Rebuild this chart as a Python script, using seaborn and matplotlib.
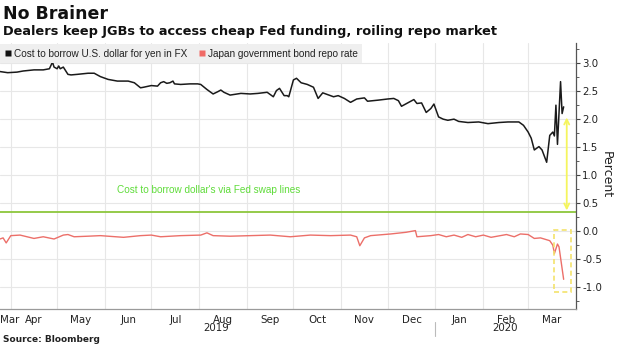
import matplotlib
matplotlib.use("Agg")
import matplotlib.pyplot as plt
import matplotlib.dates as mdates
import matplotlib.transforms as mtransforms
from matplotlib.patches import Rectangle
from matplotlib.lines import Line2D
from matplotlib.ticker import FixedLocator, FixedFormatter, MultipleLocator, NullFormatter
import numpy as np
import pandas as pd
import seaborn as sns

# Cost to borrow U.S. dollar for yen in FX (percent)
fx_dates = [
    "2019-03-25", "2019-03-30", "2019-04-05", "2019-04-09", "2019-04-16", "2019-04-22",
    "2019-04-26", "2019-04-28", "2019-04-29", "2019-05-01", "2019-05-02", "2019-05-03",
    "2019-05-05", "2019-05-08", "2019-05-10", "2019-05-14", "2019-05-21", "2019-05-25",
    "2019-05-29", "2019-06-03", "2019-06-09", "2019-06-16", "2019-06-20", "2019-06-24",
    "2019-06-26", "2019-07-01", "2019-07-05", "2019-07-07", "2019-07-09", "2019-07-11",
    "2019-07-13", "2019-07-15", "2019-07-16", "2019-07-20", "2019-07-26", "2019-07-31",
    "2019-08-02", "2019-08-06", "2019-08-10", "2019-08-13", "2019-08-15", "2019-08-17",
    "2019-08-21", "2019-08-28", "2019-09-03", "2019-09-08", "2019-09-14", "2019-09-18",
    "2019-09-20", "2019-09-22", "2019-09-25", "2019-09-27", "2019-09-28", "2019-10-01",
    "2019-10-03", "2019-10-06", "2019-10-10", "2019-10-14", "2019-10-17", "2019-10-20",
    "2019-10-23", "2019-10-27", "2019-10-30", "2019-11-03", "2019-11-07", "2019-11-11",
    "2019-11-16", "2019-11-18", "2019-11-25", "2019-12-01", "2019-12-05", "2019-12-08",
    "2019-12-10", "2019-12-14", "2019-12-18", "2019-12-20", "2019-12-23", "2019-12-26",
    "2019-12-29", "2019-12-31", "2020-01-03", "2020-01-06", "2020-01-09", "2020-01-13",
    "2020-01-16", "2020-01-22", "2020-01-29", "2020-02-04", "2020-02-11", "2020-02-17",
    "2020-02-24", "2020-02-27", "2020-03-01", "2020-03-03", "2020-03-05", "2020-03-08",
    "2020-03-10", "2020-03-13", "2020-03-15", "2020-03-17", "2020-03-18", "2020-03-19",
    "2020-03-20", "2020-03-22", "2020-03-23", "2020-03-24",
]
fx_cost = [
    2.85, 2.83, 2.84, 2.86, 2.88, 2.88,
    2.90, 3.02, 2.93, 2.90, 2.95, 2.90,
    2.93, 2.80, 2.79, 2.80, 2.82, 2.82,
    2.76, 2.71, 2.68, 2.68, 2.65, 2.56,
    2.57, 2.60, 2.59, 2.65, 2.67, 2.64,
    2.65, 2.68, 2.63, 2.62, 2.63, 2.63,
    2.62, 2.53, 2.45, 2.49, 2.52, 2.48,
    2.43, 2.46, 2.45, 2.46, 2.48, 2.40,
    2.51, 2.55, 2.42, 2.42, 2.40, 2.70,
    2.73, 2.65, 2.62, 2.57, 2.37, 2.47,
    2.44, 2.40, 2.42, 2.37, 2.30, 2.36,
    2.38, 2.32, 2.34, 2.36, 2.37, 2.33,
    2.23, 2.29, 2.35, 2.28, 2.29, 2.12,
    2.19, 2.27, 2.04, 2.00, 1.98, 2.00,
    1.96, 1.94, 1.95, 1.92, 1.94, 1.95,
    1.95, 1.89, 1.77, 1.66, 1.45, 1.51,
    1.45, 1.23, 1.71, 1.77, 1.70, 2.25,
    1.55, 2.67, 2.10, 2.22,
]

# Japan government bond repo rate (percent)
repo_dates = [
    "2019-03-25", "2019-03-27", "2019-03-29", "2019-04-01", "2019-04-07", "2019-04-16",
    "2019-04-22", "2019-04-29", "2019-05-05", "2019-05-08", "2019-05-12", "2019-05-21",
    "2019-05-29", "2019-06-13", "2019-06-24", "2019-07-01", "2019-07-07", "2019-07-20",
    "2019-08-02", "2019-08-06", "2019-08-10", "2019-08-21", "2019-09-03", "2019-09-16",
    "2019-09-29", "2019-10-12", "2019-10-25", "2019-11-07", "2019-11-11", "2019-11-13",
    "2019-11-16", "2019-11-20", "2019-12-03", "2019-12-13", "2019-12-19", "2019-12-20",
    "2019-12-29", "2020-01-03", "2020-01-08", "2020-01-13", "2020-01-18", "2020-01-22",
    "2020-01-27", "2020-02-01", "2020-02-06", "2020-02-12", "2020-02-16", "2020-02-21",
    "2020-02-25", "2020-03-01", "2020-03-05", "2020-03-09", "2020-03-15", "2020-03-17",
    "2020-03-18", "2020-03-20", "2020-03-21", "2020-03-24",
]
repo_rate = [
    -0.14, -0.12, -0.21, -0.08, -0.07, -0.13,
    -0.10, -0.14, -0.07, -0.06, -0.10, -0.09,
    -0.08, -0.11, -0.08, -0.07, -0.10, -0.08,
    -0.07, -0.03, -0.08, -0.09, -0.08, -0.07,
    -0.10, -0.07, -0.08, -0.07, -0.10, -0.26,
    -0.12, -0.08, -0.05, -0.02, 0.01, -0.10,
    -0.08, -0.06, -0.10, -0.07, -0.11, -0.06,
    -0.10, -0.07, -0.11, -0.08, -0.06, -0.10,
    -0.05, -0.06, -0.13, -0.12, -0.17, -0.25,
    -0.40, -0.23, -0.28, -0.86,
]

legend_labels = ["Cost to borrow U.S. dollar for yen in FX", "Japan government bond repo rate"]
swap_line_rate = 0.34
swap_line_label = "Cost to borrow dollar's via Fed swap lines"
month_labels = ["Mar", "Apr", "May", "Jun", "Jul", "Aug", "Sep", "Oct", "Nov", "Dec", "Jan", "Feb", "Mar"]
year_labels = ["2019", "2020"]
y_ticks = [-1.0, -0.5, 0.0, 0.5, 1.0, 1.5, 2.0, 2.5, 3.0]

fx_df = pd.DataFrame({"date": pd.to_datetime(fx_dates), "value": fx_cost})
repo_df = pd.DataFrame({"date": pd.to_datetime(repo_dates), "value": repo_rate})

sns.set_style("white")
plt.rcParams["font.family"] = ["DejaVu Sans"]
plt.rcParams["axes.unicode_minus"] = False
NARROW = ["Liberation Sans", "DejaVu Sans"]

fig = plt.figure(figsize=(6.2, 3.48), dpi=100)
ax = fig.add_axes([0.0, 39 / 348, 576 / 620, 266 / 348])

x_start = pd.Timestamp("2019-03-25")
x_end = pd.Timestamp("2020-04-01")

# Fed swap-line reference level
ax.axhline(swap_line_rate, color="#8cc63c", lw=1.3, zorder=2)
ax.text(pd.Timestamp("2019-08-07"), 0.73, swap_line_label, color="#5fdc3a",
        ha="center", va="center", fontsize=7.2, family=NARROW)

sns.lineplot(data=repo_df, x="date", y="value", ax=ax, color="#ec6f69", lw=1.0, zorder=3)
sns.lineplot(data=fx_df, x="date", y="value", ax=ax, color="#1a1a1a", lw=1.1, zorder=4)

# Spread between FX-implied cost and the swap line
arrow_x = mdates.date2num(pd.Timestamp("2020-03-26"))
ax.annotate("", xy=(arrow_x, 2.03), xytext=(arrow_x, 0.37),
            arrowprops=dict(arrowstyle="<->", color="#f5f55e", lw=1.3, mutation_scale=9,
                            shrinkA=0, shrinkB=0), zorder=5)

# Highlight the March repo plunge
box_left = mdates.date2num(pd.Timestamp("2020-03-18"))
box_right = mdates.date2num(pd.Timestamp("2020-03-29"))
ax.add_patch(Rectangle((box_left, -1.09), box_right - box_left, 1.11, fill=False,
                       ls=(0, (3, 2)), ec="#f3e36c", lw=1.2, zorder=5))

ax.set_xlim(x_start, x_end)
ax.set_ylim(-1.39, 3.36)
ax.set_xlabel("")
ax.set_ylabel("")

# y axis on the right
ax.yaxis.tick_right()
ax.set_yticks(y_ticks)
ax.set_yticklabels([f"{v:.1f}" for v in y_ticks])
ax.yaxis.set_minor_locator(MultipleLocator(0.25))
ax.tick_params(axis="y", which="major", direction="out", length=3, width=0.8,
               color="#444444", labelsize=7.4, pad=1.5, labelcolor="#222222")
ax.tick_params(axis="y", which="minor", direction="out", length=2, width=0.6, color="#444444")

# x axis: ticks at month starts, labels centred in each month
month_starts = pd.date_range("2019-04-01", "2020-03-01", freq="MS")
ax.xaxis.set_major_locator(FixedLocator(mdates.date2num(month_starts)))
ax.xaxis.set_major_formatter(NullFormatter())
centres = [pd.Timestamp("2019-03-31")]
for a, b in zip(month_starts[:-1], month_starts[1:]):
    centres.append(a + (b - a) / 2)
centres.append(month_starts[-1] + (x_end - month_starts[-1]) / 2)
ax.xaxis.set_minor_locator(FixedLocator(mdates.date2num(centres)))
ax.xaxis.set_minor_formatter(FixedFormatter(month_labels))
ax.tick_params(axis="x", which="major", direction="inout", length=3, width=0.8, color="#888888")
ax.tick_params(axis="x", which="minor", length=0, labelsize=7.4, pad=4, labelcolor="#222222")

ax.grid(True, which="major", color="#e7e7e7", lw=0.8)
ax.set_axisbelow(True)

for side in ["left", "top"]:
    ax.spines[side].set_visible(False)
ax.spines["right"].set_color("#555555")
ax.spines["right"].set_linewidth(0.9)
ax.spines["bottom"].set_color("#9a9a9a")
ax.spines["bottom"].set_linewidth(0.9)

# Year labels and the year separator below the month labels
xtrans = mtransforms.blended_transform_factory(ax.transData, ax.transAxes)
ax.text(pd.Timestamp("2019-08-12"), -0.072, year_labels[0], transform=xtrans, ha="center",
        va="center", fontsize=7.4, color="#222222", clip_on=False)
ax.text(pd.Timestamp("2020-02-15"), -0.072, year_labels[1], transform=xtrans, ha="center",
        va="center", fontsize=7.4, color="#222222", clip_on=False)
jan1 = mdates.date2num(pd.Timestamp("2020-01-01"))
ax.add_line(Line2D([jan1, jan1], [-0.05, -0.1], transform=xtrans, color="#bbbbbb",
                   lw=0.8, clip_on=False))

# Legend
handles = [
    Line2D([], [], marker="s", ls="none", markerfacecolor="#111111", markeredgecolor="none",
           markersize=5, label=legend_labels[0]),
    Line2D([], [], marker="s", ls="none", markerfacecolor="#f06a66", markeredgecolor="none",
           markersize=5, label=legend_labels[1]),
]
leg = ax.legend(handles=handles, loc="upper left", bbox_to_anchor=(0.0, 0.995), ncol=2,
                frameon=True, fancybox=False, facecolor="#efefef", edgecolor="none",
                framealpha=1, borderaxespad=0.0, handlelength=0.6, handletextpad=0.3,
                columnspacing=1.2, borderpad=0.45, prop={"family": NARROW, "size": 7.2})
for t in leg.get_texts():
    t.set_color("#222222")

# Titles, axis label and source
fig.text(3 / 620, 1 - 14 / 348, "No Brainer", fontsize=12.5, fontweight="bold",
         va="center", ha="left", color="#111111")
fig.text(3 / 620, 1 - 32 / 348, "Dealers keep JGBs to access cheap Fed funding, roiling repo market",
         fontsize=9.3, fontweight="bold", va="center", ha="left", color="#111111")
fig.text(606 / 620, 1 - 175 / 348, "Percent", rotation=270, fontsize=9, ha="center",
         va="center", color="#222222")
fig.text(3 / 620, 1 - 340 / 348, "Source: Bloomberg", fontsize=6.5, fontweight="bold",
         va="center", ha="left", color="#222222")

fig.savefig("out.png", dpi=100, facecolor="white")
